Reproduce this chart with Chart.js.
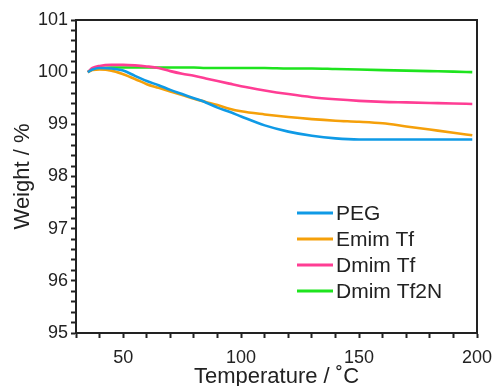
<!DOCTYPE html>
<html>
<head>
<meta charset="utf-8">
<script src="https://cdn.jsdelivr.net/npm/chart.js@4/dist/chart.umd.min.js"></script>
<style>
  html, body { margin: 0; padding: 0; background: #fff; }
  #wrap { width: 493px; height: 386px; }
</style>
</head>
<body>
<div id="wrap"><canvas id="tga-chart"></canvas></div>
<script>
// Temperature (°C) sampling points shared by all series
const temperature = [35, 37, 40, 45, 50, 55, 60, 65, 70, 75, 80, 85, 90, 95, 100,
  110, 120, 130, 140, 150, 160, 170, 180, 190, 198];

// Weight (%)
const pegWeight = [100.0, 100.05, 100.08, 100.07, 100.03, 99.93, 99.83, 99.75, 99.66, 99.58,
  99.5, 99.42, 99.32, 99.24, 99.15, 98.98, 98.86, 98.78, 98.73, 98.71, 98.71, 98.71, 98.71, 98.71, 98.71];
const emimTfWeight = [100.0, 100.04, 100.05, 100.03, 99.96, 99.87, 99.77, 99.7, 99.63, 99.56,
  99.49, 99.43, 99.37, 99.3, 99.25, 99.19, 99.14, 99.1, 99.07, 99.05, 99.02, 98.96, 98.9, 98.84, 98.79];
const dmimTfWeight = [100.0, 100.08, 100.12, 100.14, 100.14, 100.13, 100.11, 100.08, 100.02, 99.97,
  99.93, 99.88, 99.83, 99.78, 99.73, 99.65, 99.58, 99.52, 99.48, 99.45, 99.43, 99.42, 99.41, 99.4, 99.39];
const dmimTf2NWeight = [100.0, 100.06, 100.08, 100.09, 100.09, 100.09, 100.09, 100.09, 100.09, 100.09,
  100.09, 100.08, 100.08, 100.08, 100.08, 100.08, 100.07, 100.07, 100.06, 100.05, 100.04, 100.03, 100.02, 100.01, 100.0];

const seriesLabels = ["PEG", "Emim Tf", "Dmim Tf", "Dmim Tf2N"];
const seriesColors = ["#0f9ae6", "#f5a00a", "#ff3d94", "#1ee41e"];

function toPoints(values) {
  return temperature.map((t, i) => ({ x: t, y: values[i] }));
}

// Draws the box around the plot and the legend inside it
const framePlugin = {
  id: "frame",
  afterDraw(chart) {
    const { ctx, chartArea } = chart;
    ctx.save();
    ctx.strokeStyle = "#222";
    ctx.lineWidth = 2;
    ctx.strokeRect(chartArea.left, chartArea.top,
      chartArea.right - chartArea.left, chartArea.bottom - chartArea.top);

    // legend
    const x0 = chartArea.left + 221;
    const y0 = chartArea.top + 193;
    ctx.font = "21px 'Liberation Sans', Arial, sans-serif";
    ctx.textBaseline = "middle";
    ctx.fillStyle = "#222";
    chart.data.datasets.forEach((ds, i) => {
      const y = y0 + i * 26;
      ctx.strokeStyle = ds.borderColor;
      ctx.lineWidth = 3;
      ctx.beginPath();
      ctx.moveTo(x0, y);
      ctx.lineTo(x0 + 36, y);
      ctx.stroke();
      ctx.fillText(ds.label, x0 + 39, y + 1);
    });
    ctx.restore();
  },
};

const weights = [pegWeight, emimTfWeight, dmimTfWeight, dmimTf2NWeight];
const tickFont = { family: "'Liberation Sans', Arial, sans-serif", size: 18 };

new Chart(document.getElementById("tga-chart").getContext("2d"), {
  type: "line",
  data: {
    datasets: weights.map((w, i) => ({
      label: seriesLabels[i],
      data: toPoints(w),
      borderColor: seriesColors[i],
      backgroundColor: seriesColors[i],
      borderWidth: 2.6,
      pointRadius: 0,
      cubicInterpolationMode: "monotone",
      fill: false,
    })),
  },
  options: {
    responsive: true,
    maintainAspectRatio: false,
    animation: false,
    layout: { padding: { left: 0, right: 16, top: 20, bottom: 0 } },
    plugins: {
      legend: { display: false },
      tooltip: { enabled: false },
    },
    scales: {
      x: {
        type: "linear",
        min: 30,
        max: 200,
        afterFit: (scale) => {
          scale.height = 53;
          scale.paddingLeft = 0;
          scale.paddingRight = 0;
        },
        ticks: {
          stepSize: 10,
          autoSkip: false,
          maxRotation: 0,
          padding: 9,
          color: "#222",
          font: tickFont,
          callback: (v) => (v % 50 === 0 ? String(v) : ""),
        },
        grid: { drawOnChartArea: false, drawTicks: true, tickLength: 5, tickColor: "#222", tickWidth: 2 },
        border: { display: true, color: "#222", width: 2 },
        title: {
          display: true,
          text: "Temperature / ˚C",
          color: "#222",
          font: { family: "'Liberation Sans', Arial, sans-serif", size: 22, lineHeight: 0.8 },
          padding: { top: 0, bottom: 0 },
        },
      },
      y: {
        min: 95,
        max: 101,
        afterFit: (scale) => {
          scale.width = 76;
          scale.paddingTop = 0;
          scale.paddingBottom = 0;
        },
        ticks: {
          stepSize: 0.2,
          autoSkip: false,
          padding: 3,
          color: "#222",
          font: tickFont,
          callback: (v) => (Math.abs(v - Math.round(v)) < 1e-6 ? String(Math.round(v)) : ""),
        },
        grid: { drawOnChartArea: false, drawTicks: true, tickLength: 5, tickColor: "#222", tickWidth: 2 },
        border: { display: true, color: "#222", width: 2 },
        title: {
          display: true,
          text: "Weight / %",
          color: "#222",
          font: { family: "'Liberation Sans', Arial, sans-serif", size: 22 },
          padding: { top: 10, bottom: 0 },
        },
      },
    },
  },
  plugins: [framePlugin],
});
</script>
</body>
</html>
